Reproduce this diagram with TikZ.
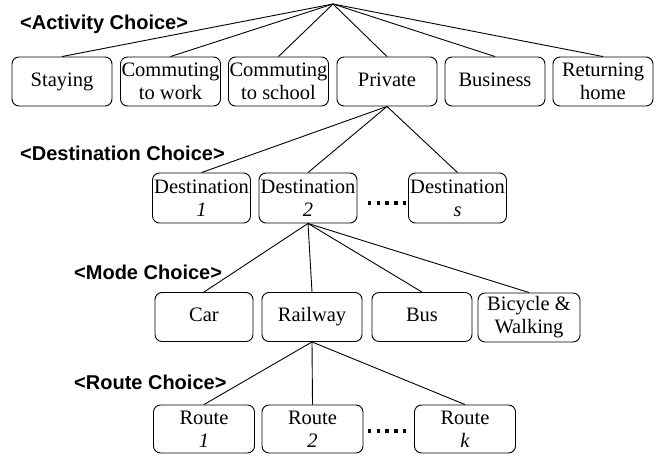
\documentclass[tikz,border=0pt]{standalone}
\usepackage{fontspec}
\setmainfont{Liberation Serif}
\newfontfamily\lblfont{Liberation Sans}
\begin{document}
\begin{tikzpicture}[x=1pt,y=-1pt,
  box/.style={draw,line width=0.9pt,rounded corners=7pt,minimum width=100pt,minimum height=49pt,inner sep=0pt,align=center,font=\fontsize{20.5}{23}\selectfont},
  lvl/.style={anchor=west,inner sep=0pt,font=\lblfont\bfseries\fontsize{20}{22}\selectfont},
  conn/.style={line width=0.9pt},
  dotmark/.style={fill=black,inner sep=0pt,minimum size=3.3pt}]
\useasboundingbox (0,0) rectangle (667,457);
% level labels
\node[lvl] (lA) at (20,24) {<Activity Choice>};
\node[lvl] (lD) at (20,153) {<Destination Choice>};
\node[lvl] (lM) at (74,272) {<Mode Choice>};
\node[lvl] (lR) at (74,382) {<Route Choice>};
% root
\coordinate (root) at (333,4);
% row 1
\node[box] (stay) at (62,81.5) {\strut Staying};
\node[box] (work) at (170.5,81.5) {Commuting\\to work};
\node[box] (school) at (278.5,81.5) {Commuting\\to school};
\node[box] (priv) at (387,81.5) {\strut Private};
\node[box] (bus1) at (495,81.5) {\strut Business};
\node[box] (ret) at (603,81.5) {Returning\\home};
% row 2
\node[box,minimum width=98pt,minimum height=50pt] (d1) at (201.5,198) {Destination\\\textit{1}};
\node[box,minimum width=98pt,minimum height=50pt] (d2) at (308,198) {Destination\\\textit{2}};
\node[box,minimum width=98pt,minimum height=50pt] (ds) at (457.5,198) {Destination\\\textit{s}};
% row 3
\node[box,minimum width=98pt] (car) at (204,317) {\strut Car};
\node[box] (rail) at (312,317) {\strut Railway};
\node[box] (bus) at (422,317) {\strut Bus};
\node[box,minimum width=102pt] (bike) at (529,317.5) {Bicycle \&\\Walking};
% row 4
\node[box,minimum width=101pt,minimum height=48pt] (r1) at (204,429) {Route\\\textit{1}};
\node[box,minimum width=101pt,minimum height=48pt] (r2) at (312.5,429) {Route\\\textit{2}};
\node[box,minimum width=101pt,minimum height=48pt] (rk) at (465,429) {Route\\\textit{k}};
% dots
\foreach \i in {0,...,4} {
  \node[dotmark] (da\i) at (369.5+8.8*\i,203) {};
  \node[dotmark] (db\i) at (369.5+8.8*\i,431) {};
}
% connectors
\foreach \n in {stay,work,school,priv,bus1,ret} \draw[conn] (root) -- (\n.north);
\foreach \n in {d1,d2,ds} \draw[conn] (priv.south) -- (\n.north);
\foreach \n in {car,rail,bus,bike} \draw[conn] (d2.south) -- (\n.north);
\foreach \n in {r1,r2,rk} \draw[conn] (rail.south) -- (\n.north);
\end{tikzpicture}
\end{document}
